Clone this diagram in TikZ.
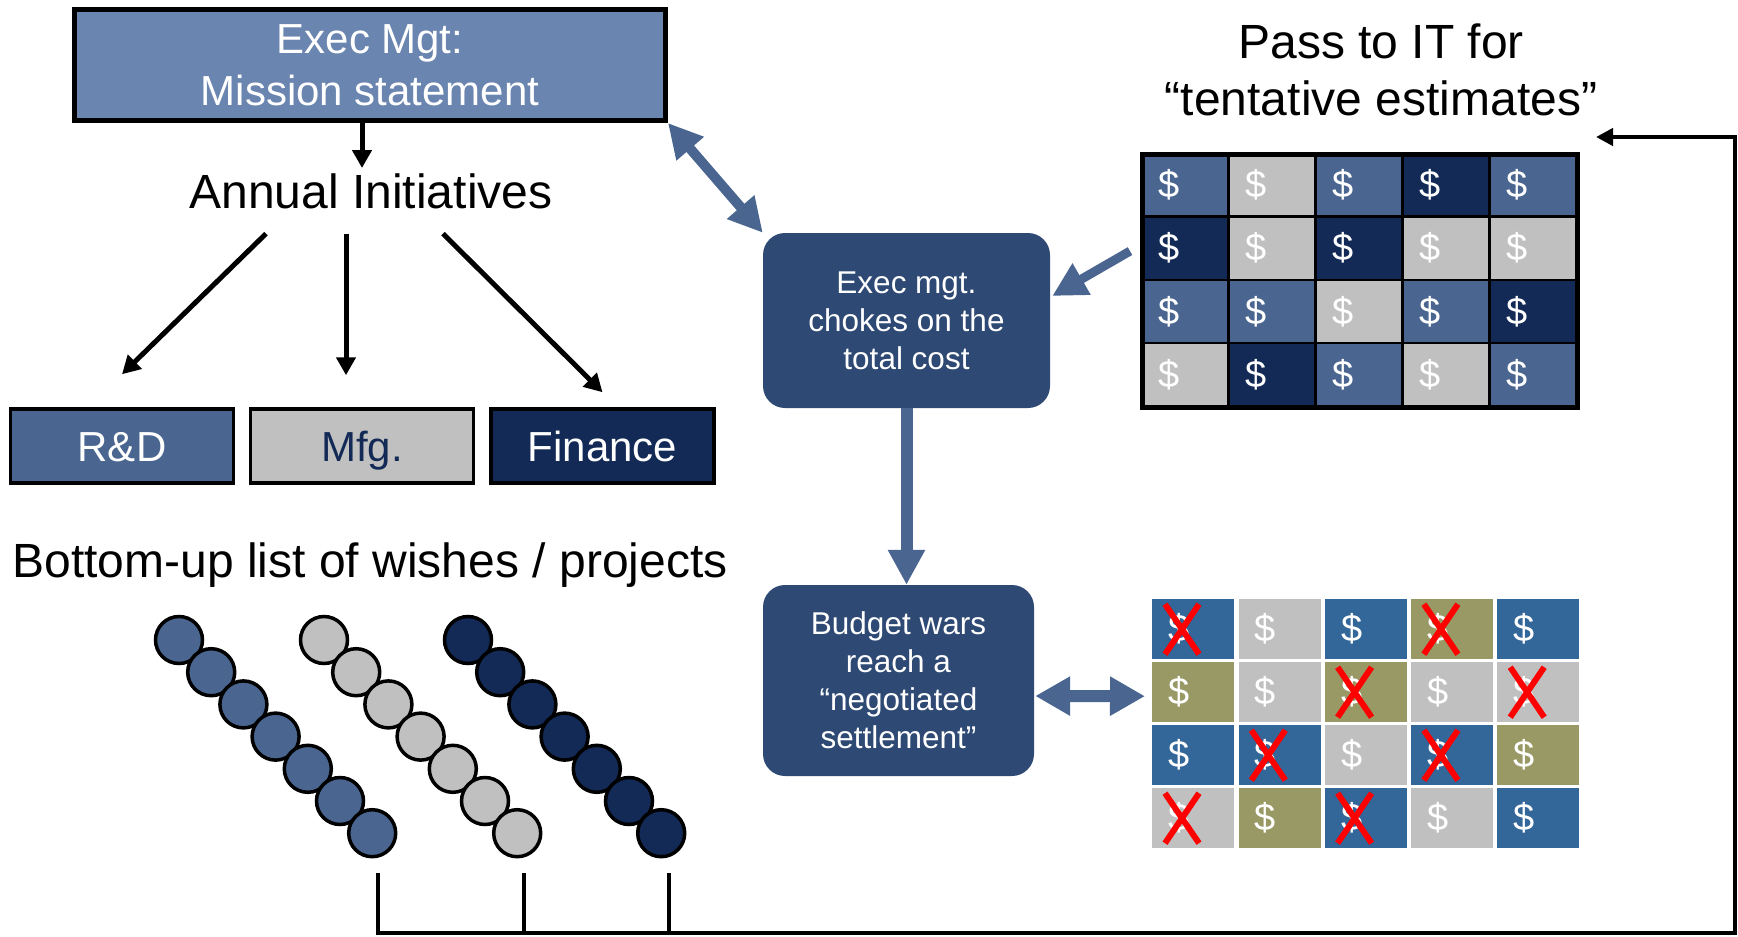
\documentclass[tikz,border=0pt]{standalone}
\usepackage{fontspec}
\setmainfont{Liberation Sans}
\usetikzlibrary{arrows.meta,calc}
\definecolor{execfill}{HTML}{6A85AF}
\definecolor{midblue}{HTML}{4A6690}
\definecolor{navy}{HTML}{122A55}
\definecolor{lgray}{HTML}{C0C0C0}
\definecolor{boxblue}{HTML}{2E4973}
\definecolor{steel}{HTML}{336699}
\definecolor{olive}{HTML}{999966}
\definecolor{xred}{HTML}{FF0000}
\begin{document}
\begin{tikzpicture}[x=1pt,y=-1pt,
  big/.style={font=\fontsize{48}{57}\selectfont, inner sep=0pt},
  deptbox/.style={draw=black, line width=3.5pt, minimum width=223pt, minimum height=74pt, inner sep=0pt, text height=37pt, text depth=6pt, font=\fontsize{42}{50}\selectfont},
  roundbox/.style={fill=boxblue, rounded corners=22pt, text=white, align=center, inner sep=0pt, font=\fontsize{31.5}{38}\selectfont},
  darrow/.style={draw=black, line width=5pt, -{Triangle[length=18pt,width=19pt]}},
  diagarrow/.style={draw=midblue, line width=10pt, {Triangle[length=34pt,width=34pt]}-{Triangle[length=34pt,width=34pt]}},
  dblarrow/.style={draw=midblue, line width=12pt, {Triangle[length=35pt,width=37pt]}-{Triangle[length=35pt,width=37pt]}},
  varrow/.style={draw=midblue, line width=12pt, -{Triangle[length=35pt,width=35pt]}},
  garrow/.style={draw=midblue, line width=9pt, -{Triangle[length=34pt,width=34pt]}},
  fbline/.style={draw=black, line width=4.5pt, line join=miter},
  fbarrow/.style={fbline, -{Triangle[length=17pt,width=17pt]}},
  bead/.style={circle, draw=black, line width=3.5pt, minimum size=47pt, inner sep=0pt},
  tcell/.style={anchor=north west, draw=black, line width=2.5pt, minimum width=87pt, minimum height=63.3pt, inner sep=0pt},
  bcell/.style={anchor=north west, minimum width=82pt, minimum height=60pt, inner sep=0pt},
  dollar/.style={text=white, inner sep=0pt, font=\fontsize{38}{40}\selectfont},
  redx/.style={draw=xred, line width=6pt}
]
\useasboundingbox (0,0) rectangle (1738,937);

% Exec box and initiatives
\node[draw=black, line width=5pt, fill=execfill, minimum width=591pt, minimum height=111pt,
      text=white, align=center, inner sep=0pt, font=\fontsize{42}{52}\selectfont]
      (exec) at (370,65) {Exec Mgt:\\Mission statement};
\node[big, anchor=base] (annual) at (371,208) {Annual Initiatives};
\draw[darrow] ([xshift=-8pt]exec.south) -- ++(0,45);

\node[deptbox, fill=midblue, text=white] (rd) at (122,446) {R\&D};
\node[deptbox, fill=lgray, text=navy] (mfg) at (362,446) {Mfg.};
\node[deptbox, fill=navy, text=white] (fin) at (602.5,446) {Finance};

\draw[darrow] ([xshift=-105pt,yshift=-25pt]annual.south) -- ([yshift=33pt]rd.north);
\draw[darrow] ([xshift=-25pt,yshift=-25pt]annual.south) -- ([xshift=-16pt,yshift=32pt]mfg.north);
\draw[darrow] ([xshift=72pt,yshift=-25pt]annual.south) -- ([yshift=15pt]fin.north);

% Bottom-up wishes
\node[big, anchor=base] (wishes) at (370,577) {Bottom-up list of wishes / projects};
\foreach \cx/\col [count=\k] in {179/midblue, 324/lgray, 468/navy} {
  \foreach \i in {0,...,6} {
    \node[bead, fill=\col] (bead\k-\i) at ({\cx+32.2*\i},{640+32.2*\i}) {};
  }
}

% Right side: pass to IT
\node[big, align=center] (pass) at (1381,70) {Pass to IT for\\“tentative estimates”};

% top grid
\foreach \row [count=\j from 0] in {{midblue,lgray,midblue,navy,midblue},{navy,lgray,navy,lgray,lgray},{midblue,midblue,lgray,midblue,navy},{lgray,navy,midblue,lgray,midblue}} {
  \foreach \col [count=\i from 0] in \row {
    \node[tcell, fill=\col] (tg-\j-\i) at ({1140+87*\i},{152+63.3*\j}) {};
    \node[dollar] (td-\j-\i) at ([xshift=29pt]tg-\j-\i.west) {\$};
  }
}
\node[draw=black, line width=5pt, minimum width=435pt, minimum height=253.2pt, anchor=north west, inner sep=0pt] (topgrid) at (1140,152) {};

% Exec mgt chokes
\node[roundbox, minimum width=287pt, minimum height=175pt, text depth=0pt] (chokes) at (906.5,320.5) {Exec mgt.\\chokes on the\\total cost};
\node[roundbox, minimum width=271pt, minimum height=191pt] (budget) at (898.5,680.5) {Budget wars\\reach a\\“negotiated\\settlement”};

% bottom grid
\foreach \row [count=\j from 0] in {{steel,lgray,steel,olive,steel},{olive,lgray,olive,lgray,lgray},{steel,steel,lgray,steel,olive},{lgray,olive,steel,lgray,steel}} {
  \foreach \col [count=\i from 0] in \row {
    \node[bcell, fill=\col] (bg-\j-\i) at ({1152+86.3*\i},{599+63*\j}) {};
    \node[dollar] (bd-\j-\i) at ([xshift=27pt]bg-\j-\i.west) {\$};
  }
}
\node[minimum width=425pt, minimum height=249pt, anchor=north west, inner sep=0pt] (botgrid) at (1152,599) {};
\foreach \j/\i in {0/0,0/3,1/2,1/4,2/1,2/3,3/0,3/2} {
  \draw[redx] ([xshift=13pt,yshift=25pt]bg-\j-\i.west) -- ([xshift=47pt,yshift=-25pt]bg-\j-\i.west);
  \draw[redx] ([xshift=47pt,yshift=25pt]bg-\j-\i.west) -- ([xshift=13pt,yshift=-25pt]bg-\j-\i.west);
}

% blue connectors
\draw[diagarrow] (exec.south east) -- (chokes.north west);
\draw[garrow] ([xshift=-10pt,yshift=30pt]topgrid.west) -- ([xshift=2pt,yshift=24.5pt]chokes.east);
\draw[varrow] (chokes.south) -- (chokes.south |- budget.north);
\draw[dblarrow] ([xshift=1pt,yshift=-15.5pt]budget.east) -- ([xshift=-7pt,yshift=27.5pt]botgrid.west);

% feedback line
\coordinate (corner) at (1735,933);
\coordinate (fbtip) at (1596,137);
\draw[fbarrow] ([xshift=6pt,yshift=-15pt]bead1-6.south) |- (corner) |- (fbtip);
\draw[fbline] ([xshift=7pt,yshift=-15pt]bead2-6.south) -- ++(0,60);
\draw[fbline] ([xshift=8pt,yshift=-15pt]bead3-6.south) -- ++(0,60);
\end{tikzpicture}
\end{document}
